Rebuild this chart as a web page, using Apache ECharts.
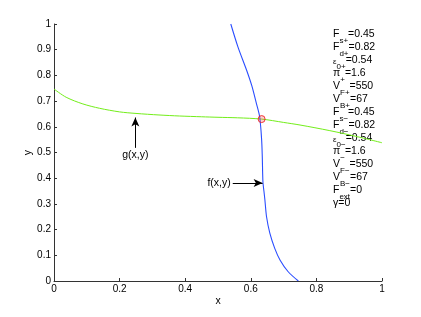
<!DOCTYPE html>
<html><head><meta charset="utf-8">
<script src="https://cdn.jsdelivr.net/npm/echarts@6/dist/echarts.min.js"></script>
<style>html,body{margin:0;padding:0;background:#fff}#c{width:421px;height:317px}</style>
</head><body><div id="c"></div>
<script>
// g(x,y) curve (green)
const gX = [0, 0.037, 0.088, 0.139, 0.2, 0.25, 0.32, 0.383, 0.45, 0.5, 0.56, 0.633, 0.7, 0.75, 0.841, 0.92, 1.0];
const gY = [0.747, 0.715, 0.689, 0.672, 0.658, 0.652, 0.646, 0.642, 0.639, 0.637, 0.635, 0.630, 0.617, 0.607, 0.585, 0.563, 0.538];
// f(x,y) curve (blue)
const fX = [0.539, 0.561, 0.587, 0.603, 0.617, 0.627, 0.633, 0.635, 0.637, 0.640, 0.643, 0.648, 0.658, 0.673, 0.689, 0.714, 0.745];
const fY = [1.0, 0.91, 0.821, 0.76, 0.691, 0.639, 0.55, 0.484, 0.385, 0.35, 0.315, 0.25, 0.186, 0.127, 0.082, 0.036, 0.0];
// intersection
const crossX = [0.633];
const crossY = [0.630];
// annotation arrows
const arrowLabels = ['g(x,y)', 'f(x,y)'];
const arrowTail = [[0.248, 0.518], [0.545, 0.381]];
const arrowHead = [[0.248, 0.636], [0.636, 0.381]];
// parameter text: base, subscript, value
const paramBase = ['F', 'F', 'ε', 'π', 'V', 'V', 'F', 'F', 'ε', 'π', 'V', 'V', 'F', 'γ'];
const paramSub = ['s+', 'd+', '0+', '+', 'F+', 'B+', 's−', 'd−', '0−', '−', 'F−', 'B−', 'ext', ''];
const paramVal = ['=0.45', '=0.82', '=0.54', '=1.6', '=550', '=67', '=0.45', '=0.82', '=0.54', '=1.6', '=550', '=67', '=0', '=0'];

const FONTFAM = "'Liberation Sans', Arial, Helvetica, sans-serif";
const BASE_SIZE = 10.5, SUB_SIZE = 8, TICK_SIZE = 10;
const chart = echarts.init(document.getElementById('c'), null, {renderer: 'canvas'});

const mctx = document.createElement('canvas').getContext('2d');
function tw(t, size) { mctx.font = size + 'px ' + FONTFAM; return mctx.measureText(t).width; }
function txt(t, x, y, size) {
  return {type: 'text', x: x, y: y, silent: true,
    style: {text: t, fontSize: size, fontFamily: FONTFAM, fill: '#000',
      align: 'left', verticalAlign: 'middle', textAlign: 'left', textVerticalAlign: 'middle'}};
}
const graphics = [];
paramBase.forEach((b, i) => {
  const cy = 34.3 + 13 * i;
  let x = 333;
  const bs = b === 'ε' ? SUB_SIZE : BASE_SIZE;
  graphics.push(txt(b, x, b === 'ε' ? cy + 1 : cy, bs));
  x += tw(b, bs);
  if (paramSub[i]) {
    graphics.push(txt(paramSub[i], x, cy + 6.3, SUB_SIZE));
    x += tw(paramSub[i], SUB_SIZE);
  }
  graphics.push(txt(paramVal[i], x, cy, BASE_SIZE));
});

const axisCommon = {
  axisLine: {show: true, lineStyle: {color: '#333', width: 1}},
  axisTick: {show: true, inside: true, length: 3, lineStyle: {color: '#333'}},
  splitLine: {show: false},
  nameMoveOverlap: false,
  nameTextStyle: {color: '#000', fontFamily: FONTFAM, fontSize: BASE_SIZE}
};
const labelStyle = {color: '#000', fontFamily: FONTFAM, fontSize: TICK_SIZE, margin: 3};

chart.setOption({
  animation: false,
  backgroundColor: '#fff',
  grid: {left: 54, right: 39, top: 24, bottom: 36},
  xAxis: Object.assign({type: 'value', min: 0, max: 1, interval: 0.2, name: 'x', nameLocation: 'middle', nameGap: 15,
    axisLabel: labelStyle}, axisCommon),
  yAxis: Object.assign({type: 'value', min: 0, max: 1, interval: 0.1, name: 'y', nameLocation: 'middle', nameGap: 20, nameRotate: 90,
    axisLabel: labelStyle}, axisCommon),
  series: [
    {type: 'line', data: gX.map((x, i) => [x, gY[i]]), showSymbol: false, smooth: 0.3,
     lineStyle: {color: '#73ee1a', width: 1}, z: 2},
    {type: 'line', data: fX.map((x, i) => [x, fY[i]]), showSymbol: false, smooth: 0.3,
     lineStyle: {color: '#2a4dff', width: 1.1}, z: 3},
    {type: 'scatter', data: crossX.map((x, i) => [x, crossY[i]]), symbol: 'circle', symbolSize: 7,
     itemStyle: {color: 'rgba(255,80,80,0.35)', borderColor: '#ee1111', borderWidth: 1}, z: 5},
    {type: 'line', data: [], showSymbol: false,
     markLine: {
       silent: true, animation: false,
       symbol: ['none', 'arrow'], symbolSize: [6, 9],
       lineStyle: {color: '#000', width: 1, type: 'solid'},
       label: {show: true, position: 'start', color: '#000', fontFamily: FONTFAM, fontSize: BASE_SIZE, distance: 2},
       data: arrowLabels.map((lab, i) => [
         {coord: arrowTail[i], label: {formatter: lab}},
         {coord: arrowHead[i]}
       ])
     }}
  ],
  graphic: graphics
});
</script></body></html>
